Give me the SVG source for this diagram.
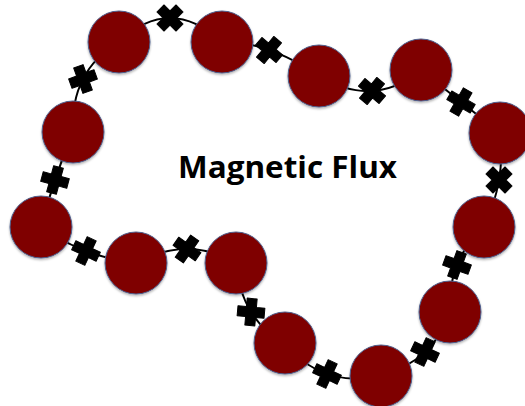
<svg xmlns="http://www.w3.org/2000/svg" xmlns:xlink="http://www.w3.org/1999/xlink" width="525" height="406" viewBox="0 0 525 406">
  <style>
    .bead { fill: #7f0000; stroke: #4f6290; stroke-width: 1; filter: url(#sh); }
    .wire { fill: none; stroke: #000; stroke-width: 2; }
    .x { fill: #000; stroke: #000; stroke-width: 1; stroke-linejoin: round; }
    .title { font-family: "Open Sans", "Liberation Sans", sans-serif; font-weight: bold; font-size: 30px; fill: #000; }
  </style>
  <defs>
    <filter id="sh" x="-20%" y="-20%" width="140%" height="140%">
      <feDropShadow dx="0" dy="1.5" stdDeviation="1.2" flood-color="#000" flood-opacity="0.3"/>
    </filter>
    <path id="cross" class="x" d="M -5 -13.5 H 5 V -5 H 13.5 V 5 H 5 V 13.5 H -5 V 5 H -13.5 V -5 H -5 Z"/>
  </defs>
  <rect width="525" height="406" fill="#fff"/>

  <g id="connectors">
    <path class="wire" d="M119 42 Q169.5 -6 222 42"/>
    <path class="wire" d="M222 42 Q267.5 41 319 76"/>
    <path class="wire" d="M319 76 Q374 109 421 70"/>
    <path class="wire" d="M421 70 Q461.5 102.5 500 133"/>
    <path class="wire" d="M500 133 Q506 180 484 227"/>
    <path class="wire" d="M484 227 Q447 260.5 450 312"/>
    <path class="wire" d="M450 312 Q434.5 360 381 376"/>
    <path class="wire" d="M381 376 Q321 388.5 285 343"/>
    <path class="wire" d="M285 343 Q241.5 321 236 263"/>
    <path class="wire" d="M236 263 Q188 235 136 263"/>
    <path class="wire" d="M136 263 Q83.5 257 41 227"/>
    <path class="wire" d="M41 227 Q53 180.5 73 132"/>
    <path class="wire" d="M73 132 Q70 71 119 42"/>
    <use xlink:href="#cross" transform="translate(170 18) rotate(45)"/>
    <use xlink:href="#cross" transform="translate(269 50) rotate(40)"/>
    <use xlink:href="#cross" transform="translate(372 91) rotate(40)"/>
    <use xlink:href="#cross" transform="translate(461 102) rotate(30)"/>
    <use xlink:href="#cross" transform="translate(499 180) rotate(45)"/>
    <use xlink:href="#cross" transform="translate(457 265) rotate(20)"/>
    <use xlink:href="#cross" transform="translate(425 352) rotate(25)"/>
    <use xlink:href="#cross" transform="translate(327 374) rotate(25)"/>
    <use xlink:href="#cross" transform="translate(251 312) rotate(5)"/>
    <use xlink:href="#cross" transform="translate(187 249) rotate(35)"/>
    <use xlink:href="#cross" transform="translate(86 251) rotate(25)"/>
    <use xlink:href="#cross" transform="translate(55 180) rotate(15)"/>
    <use xlink:href="#cross" transform="translate(83 79) rotate(70)"/>
  </g>

  <g id="n1"><circle class="bead" cx="119" cy="42" r="31"/></g>
  <g id="n2"><circle class="bead" cx="222" cy="42" r="31"/></g>
  <g id="n3"><circle class="bead" cx="319" cy="76" r="31"/></g>
  <g id="n4"><circle class="bead" cx="421" cy="70" r="31"/></g>
  <g id="n5"><circle class="bead" cx="500" cy="133" r="31"/></g>
  <g id="n6"><circle class="bead" cx="484" cy="227" r="31"/></g>
  <g id="n7"><circle class="bead" cx="450" cy="312" r="31"/></g>
  <g id="n8"><circle class="bead" cx="381" cy="376" r="31"/></g>
  <g id="n9"><circle class="bead" cx="285" cy="343" r="31"/></g>
  <g id="n10"><circle class="bead" cx="236" cy="263" r="31"/></g>
  <g id="n11"><circle class="bead" cx="136" cy="263" r="31"/></g>
  <g id="n12"><circle class="bead" cx="41" cy="227" r="31"/></g>
  <g id="n13"><circle class="bead" cx="73" cy="132" r="31"/></g>

  <g id="label">
    <text class="title" x="287.5" y="178" text-anchor="middle" textLength="219" lengthAdjust="spacingAndGlyphs">Magnetic Flux</text>
  </g>
</svg>
